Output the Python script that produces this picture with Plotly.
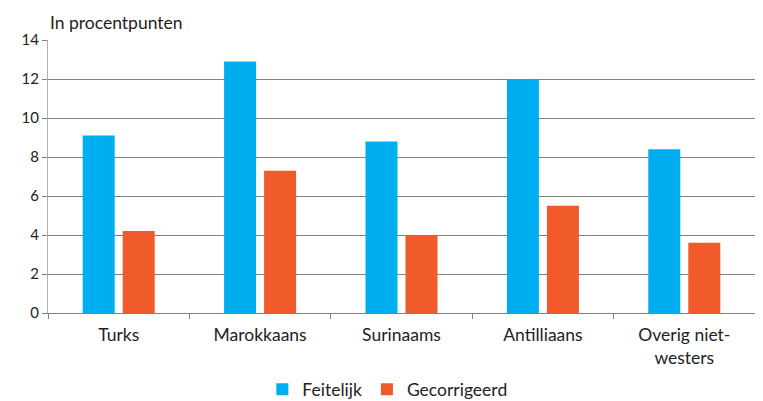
import plotly.graph_objects as go

categories = ["Turks", "Marokkaans", "Surinaams", "Antilliaans", "Overig niet-<br>westers"]
feitelijk = [9.1, 12.9, 8.8, 12.0, 8.4]
gecorrigeerd = [4.2, 7.3, 4.0, 5.5, 3.6]
y_ticks = [0, 2, 4, 6, 8, 10, 12, 14]

FONT = "Lato"
fig = go.Figure()
fig.add_trace(go.Bar(x=categories, y=feitelijk, name="Feitelijk",
                     marker=dict(color="#00AEEF", line=dict(width=0))))
fig.add_trace(go.Bar(x=categories, y=gecorrigeerd, name="Gecorrigeerd",
                     marker=dict(color="#F15A2B", line=dict(width=0))))

fig.update_layout(
    width=755, height=393,
    margin=dict(l=40, r=8, t=32, b=88, autoexpand=False),
    paper_bgcolor="white", plot_bgcolor="white",
    font=dict(family=FONT, size=17.5, color="#222222"),
    barmode="group", bargap=0.434, bargroupgap=0.2,
    showlegend=True,
    legend=dict(orientation="h", x=0.48, xanchor="center", y=-0.28, yanchor="middle",
                font=dict(size=17.5), itemclick=False, traceorder="normal",
                itemwidth=30),
    xaxis=dict(showline=True, linecolor="#808080", linewidth=1, automargin=False,
               tickson="boundaries", ticks="outside", ticklen=5, tickcolor="#808080",
               showgrid=False, tickfont=dict(size=17.5), ticklabelstandoff=6,
               fixedrange=True),
    yaxis=dict(range=[0, 14], tickvals=y_ticks, showline=True, linecolor="#b0b0b0",
               mirror=True, ticks="outside", ticklen=5, tickcolor="#808080",
               showgrid=True, gridcolor="#808080", gridwidth=1, zeroline=False,
               automargin=False, tickfont=dict(size=15), fixedrange=True),
    annotations=[dict(text="In procentpunten", x=0, y=1, xref="paper", yref="paper",
                      xanchor="left", yanchor="bottom", yshift=5, showarrow=False,
                      font=dict(size=17.5))],
)
fig.write_html("out.html")
